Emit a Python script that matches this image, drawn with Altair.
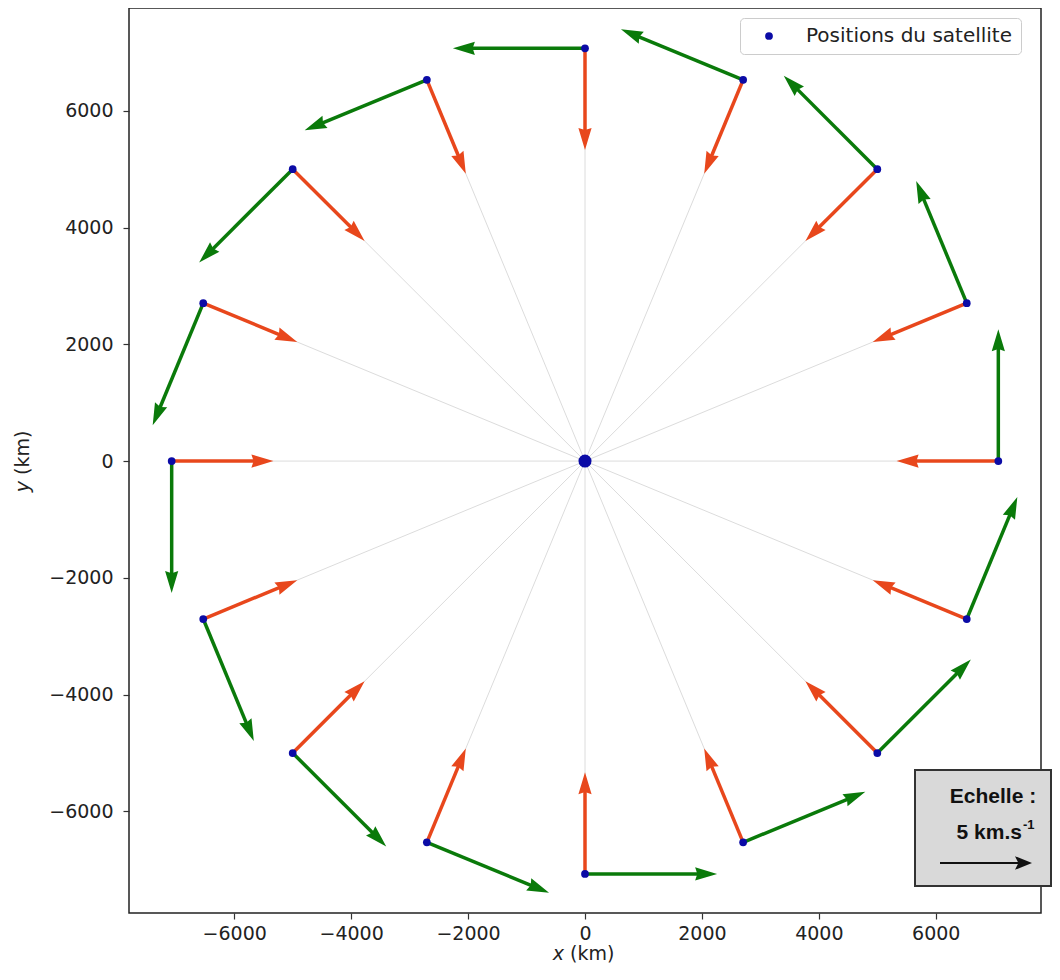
import altair as alt
import pandas as pd
import numpy as np

# ---- data (km, plot units) ----
pos_x = [7070, 6530, 5000, 2705, 0, -2705, -5000, -6530, -7070, -6530, -5000, -2705, 0, 2705, 5000, 6530]
pos_y = [0, 2705, 5000, 6530, 7070, 6530, 5000, 2705, 0, -2705, -5000, -6530, -7070, -6530, -5000, -2705]
vel_x = [0, -865, -1600, -2090, -2260, -2090, -1600, -865, 0, 865, 1600, 2090, 2260, 2090, 1600, 865]
vel_y = [2260, 2090, 1600, 865, 0, -865, -1600, -2090, -2260, -2090, -1600, -865, 0, 865, 1600, 2090]
acc_x = [-1740, -1608, -1230, -666, 0, 666, 1230, 1608, 1740, 1608, 1230, 666, 0, -666, -1230, -1608]
acc_y = [0, -666, -1230, -1608, -1740, -1608, -1230, -666, 0, 666, 1230, 1608, 1740, 1608, 1230, 666]
center_x = [0]
center_y = [0]
serie_label = "Positions du satellite"
x_ticks = [-6000, -4000, -2000, 0, 2000, 4000, 6000]
y_ticks = [-6000, -4000, -2000, 0, 2000, 4000, 6000]

BLUE = "#0b0ba6"
RED = "#e8471c"
GREEN = "#0a7a0a"
HEAD = "M0,0 L0.6,2 L0,1.8 L-0.6,2 Z"
HEAD2 = "M0,0 L0.8,2 L0,1.6 L-0.8,2 Z"

df = pd.DataFrame(dict(x=pos_x, y=pos_y, vx=vel_x, vy=vel_y, ax=acc_x, ay=acc_y))
df["serie"] = serie_label
df["zero"] = 0.0
SHORT = 300.0
vlen = np.hypot(df.vx, df.vy)
alen = np.hypot(df.ax, df.ay)
df["v_tx"] = df.x + df.vx
df["v_ty"] = df.y + df.vy
df["v_ex"] = df.x + df.vx * (1 - SHORT / vlen)
df["v_ey"] = df.y + df.vy * (1 - SHORT / vlen)
df["v_ang"] = (np.degrees(np.arctan2(df.vx, df.vy)) + 360) % 360
df["a_tx"] = df.x + df.ax
df["a_ty"] = df.y + df.ay
df["a_ex"] = df.x + df.ax * (1 - SHORT / alen)
df["a_ey"] = df.y + df.ay * (1 - SHORT / alen)
df["a_ang"] = (np.degrees(np.arctan2(df.ax, df.ay)) + 360) % 360

cdf = pd.DataFrame(dict(x=center_x, y=center_y))
one = pd.DataFrame({"k": [0]})

XS = alt.Scale(domain=[-7800, 7800], nice=False, zero=False)
YS = alt.Scale(domain=[-7740, 7760], nice=False, zero=False)
axis_common = dict(title=None, grid=False, domain=False, ticks=True, tickSize=6,
                   tickWidth=1.2, tickColor="#333", labelFont="DejaVu Sans",
                   labelFontSize=19, labelColor="#222", format="d")
XA = alt.Axis(values=x_ticks, labelPadding=5, **axis_common)
YA = alt.Axis(values=y_ticks, labelPadding=10, **axis_common)


def X(f):
    return alt.X(f, type="quantitative", scale=XS, axis=XA)


def Y(f):
    return alt.Y(f, type="quantitative", scale=YS, axis=YA)


base = alt.Chart(df)

radial = base.mark_rule(color="#dcdcdc", strokeWidth=1).encode(
    x=X("zero"), y=Y("zero"), x2="x:Q", y2="y:Q")

red_shaft = base.mark_rule(color=RED, strokeWidth=3.5).encode(
    x=X("x"), y=Y("y"), x2="a_ex:Q", y2="a_ey:Q")
red_head = base.mark_point(shape=HEAD, filled=True, size=484, color=RED,
                           opacity=1, strokeWidth=0).encode(
    x=X("a_tx"), y=Y("a_ty"), angle=alt.Angle("a_ang:Q", scale=None))

green_shaft = base.mark_rule(color=GREEN, strokeWidth=3.5).encode(
    x=X("x"), y=Y("y"), x2="v_ex:Q", y2="v_ey:Q")
green_head = base.mark_point(shape=HEAD, filled=True, size=484, color=GREEN,
                             opacity=1, strokeWidth=0).encode(
    x=X("v_tx"), y=Y("v_ty"), angle=alt.Angle("v_ang:Q", scale=None))

points = base.mark_point(filled=True, size=60, opacity=1, strokeWidth=0).encode(
    x=X("x"), y=Y("y"),
    color=alt.Color("serie:N", scale=alt.Scale(range=[BLUE]),
                    legend=alt.Legend(title=None, orient="none", legendX=611, legendY=10,
                                      padding=8, fillColor="white", strokeColor="#cccccc",
                                      cornerRadius=4, symbolType="circle", symbolSize=60,
                                      symbolOffset=11, labelOffset=27, labelFontSize=20,
                                      labelFont="DejaVu Sans", labelColor="#222",
                                      labelExpr="datum.label + '\u2002'",
                                      labelLimit=0, symbolStrokeWidth=0)))

center = alt.Chart(cdf).mark_point(filled=True, size=170, color=BLUE, opacity=1,
                                   strokeWidth=0).encode(x=X("x"), y=Y("y"))

ann = alt.Chart(one)
box = ann.mark_rect(fill="#d9d9d9", stroke="#333", strokeWidth=2).encode(
    x=alt.value(786), x2=alt.value(922), y=alt.value(762), y2=alt.value(878))
t1 = ann.mark_text(text="Echelle :", font="Liberation Sans", fontWeight="bold",
                   fontSize=21, align="center", baseline="middle", color="#111").encode(
    x=alt.value(864), y=alt.value(789))
t2 = ann.mark_text(text="5 km.s", font="Liberation Sans", fontWeight="bold",
                   fontSize=21, align="right", baseline="middle", color="#111").encode(
    x=alt.value(893), y=alt.value(825))
t3 = ann.mark_text(text="-1", font="Liberation Sans", fontWeight="bold",
                   fontSize=13, align="left", baseline="middle", color="#111").encode(
    x=alt.value(894), y=alt.value(817))
sc_shaft = ann.mark_rule(color="#111", strokeWidth=2).encode(
    x=alt.value(811), x2=alt.value(892), y=alt.value(855))
sc_head = ann.mark_point(shape=HEAD2, filled=True, size=289, color="#111", opacity=1,
                         strokeWidth=0, angle=90).encode(
    x=alt.value(903), y=alt.value(855))

xt1 = ann.mark_text(text="x", font="DejaVu Sans", fontStyle="italic", fontSize=19,
                    align="right", baseline="alphabetic", color="#222").encode(
    x=alt.value(435), y=alt.value(952))
xt2 = ann.mark_text(text="(km)", font="DejaVu Sans", fontSize=19,
                    align="left", baseline="alphabetic", color="#222").encode(
    x=alt.value(441), y=alt.value(952))
yt1 = ann.mark_text(text="y", font="DejaVu Sans", fontStyle="italic", fontSize=19,
                    align="right", baseline="middle", angle=270, color="#222").encode(
    x=alt.value(-106), y=alt.value(473))
yt2 = ann.mark_text(text="(km)", font="DejaVu Sans", fontSize=19,
                    align="left", baseline="middle", angle=270, color="#222").encode(
    x=alt.value(-106), y=alt.value(467))

chart = alt.layer(
    radial, red_shaft, red_head, green_shaft, green_head, points, center,
    box, t1, t2, t3, sc_shaft, sc_head, xt1, xt2, yt1, yt2
).properties(
    width=912, height=905,
    autosize=alt.AutoSizeParams(type="none"),
    padding={"left": 121, "top": 0, "right": 11, "bottom": 51},
).configure_view(stroke="#222", strokeWidth=1.5)

chart.save("out.html", embed_options={"renderer": "svg", "actions": False})
